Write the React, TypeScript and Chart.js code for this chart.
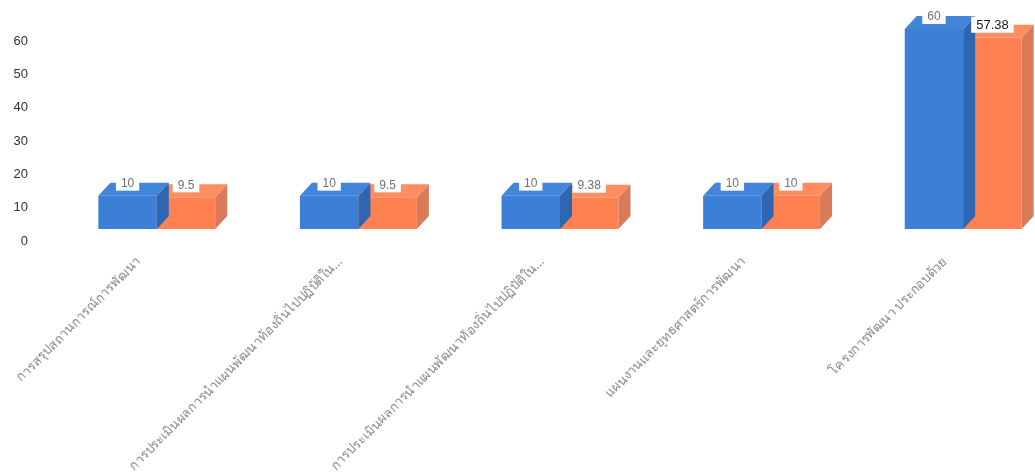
import React, { useEffect, useRef } from "react";
import { Chart, registerables } from "chart.js";

Chart.register(...registerables);

const categories = [
  "การสรุปสถานการณ์การพัฒนา",
  "การประเมินผลการนำแผนพัฒนาท้องถิ่นไปปฏิบัติใน...",
  "การประเมินผลการนำแผนพัฒนาท้องถิ่นไปปฏิบัติใน...",
  "แผนงานและยุทธศาสตร์การพัฒนา",
  "โครงการพัฒนา ประกอบด้วย",
];
const fullScore = [10, 10, 10, 10, 60];
const obtainedScore = [9.5, 9.5, 9.38, 10, 57.38];
const yTicks = [0, 10, 20, 30, 40, 50, 60];

const DX = 12;
const DY = 13;

const faces: Record<number, { top: string; side: string }> = {
  0: { top: "#4286dc", side: "#2e66b2" },
  1: { top: "#ff8d60", side: "#d97a58" },
};

const bar3d = {
  id: "bar3d",
  afterDatasetDraw(chart: any, args: any) {
    const ctx = chart.ctx;
    const f = faces[args.index];
    ctx.save();
    args.meta.data.forEach((el: any) => {
      const { x, y, base, width } = el.getProps(["x", "y", "base", "width"], true);
      const l = x - width / 2;
      const r = x + width / 2;
      ctx.fillStyle = f.top;
      ctx.beginPath();
      ctx.moveTo(l, y);
      ctx.lineTo(l + DX, y - DY);
      ctx.lineTo(r + DX, y - DY);
      ctx.lineTo(r, y);
      ctx.closePath();
      ctx.fill();
      ctx.fillStyle = f.side;
      ctx.beginPath();
      ctx.moveTo(r, y);
      ctx.lineTo(r + DX, y - DY);
      ctx.lineTo(r + DX, base - DY);
      ctx.lineTo(r, base);
      ctx.closePath();
      ctx.fill();
    });
    ctx.restore();
  },
  afterDatasetsDraw(chart: any) {
    const ctx = chart.ctx;
    ctx.save();
    chart.data.datasets.forEach((ds: any, di: number) => {
      const meta = chart.getDatasetMeta(di);
      meta.data.forEach((el: any, i: number) => {
        const { x, y } = el.getProps(["x", "y"], true);
        const strong = di === 1 && i === ds.data.length - 1;
        ctx.font = strong ? "13px 'Liberation Sans', sans-serif" : "12px 'Liberation Sans', sans-serif";
        const txt = String(ds.data[i]);
        const w = ctx.measureText(txt).width + 10;
        const h = 16;
        const cx = x;
        const cy = y - DY;
        ctx.fillStyle = "#ffffff";
        ctx.fillRect(cx - w / 2, cy - h / 2, w, h);
        ctx.fillStyle = strong ? "#1a1a1a" : "#707070";
        ctx.textAlign = "center";
        ctx.textBaseline = "middle";
        ctx.fillText(txt, cx, cy + 1);
      });
    });
    ctx.restore();
  },
};

export default function App() {
  const ref = useRef<HTMLCanvasElement>(null);
  useEffect(() => {
    if (!ref.current) return;
    const chart = new Chart(ref.current, {
      type: "bar",
      data: {
        labels: categories,
        datasets: [
          { label: "คะแนนเต็ม", data: fullScore, backgroundColor: "#3b7fd7", categoryPercentage: 0.58, barPercentage: 1 },
          { label: "คะแนนที่ได้", data: obtainedScore, backgroundColor: "#ff8152", categoryPercentage: 0.58, barPercentage: 1 },
        ],
      },
      options: {
        responsive: false,
        animation: false,
        layout: { padding: { top: 29, right: 16, left: 0, bottom: 0 } },
        plugins: { legend: { display: false }, tooltip: { enabled: false } },
        scales: {
          x: {
            grid: { display: false, drawTicks: false },
            border: { display: false },
            ticks: {
              minRotation: 45,
              maxRotation: 45,
              autoSkip: false,
              padding: 25,
              labelOffset: -18,
              color: "#8a8a8a",
              font: { size: 13, family: "'Noto Sans', sans-serif" },
            },
            afterFit: (s: any) => {
              s.height = 246;
              s.paddingLeft = 0;
              s.paddingRight = 0;
            },
          },
          y: {
            min: 0,
            max: 60,
            grid: { display: false, drawTicks: false },
            border: { display: false },
            afterBuildTicks: (s: any) => {
              s.ticks = yTicks.map((v) => ({ value: v }));
            },
            ticks: {
              padding: 28,
              labelOffset: 12,
              color: "#333333",
              font: { size: 13, family: "'Liberation Sans', sans-serif" },
            },
            afterFit: (s: any) => {
              s.width = 56;
              s.paddingTop = 0;
              s.paddingBottom = 0;
            },
          },
        },
      },
      plugins: [bar3d],
    });
    return () => chart.destroy();
  }, []);
  return (
    <div style={{ position: "absolute", left: 0, top: 0, width: 1035, height: 475, overflow: "hidden", background: "#fff" }}>
      <canvas ref={ref} width={1080} height={475} style={{ display: "block" }} />
    </div>
  );
}
